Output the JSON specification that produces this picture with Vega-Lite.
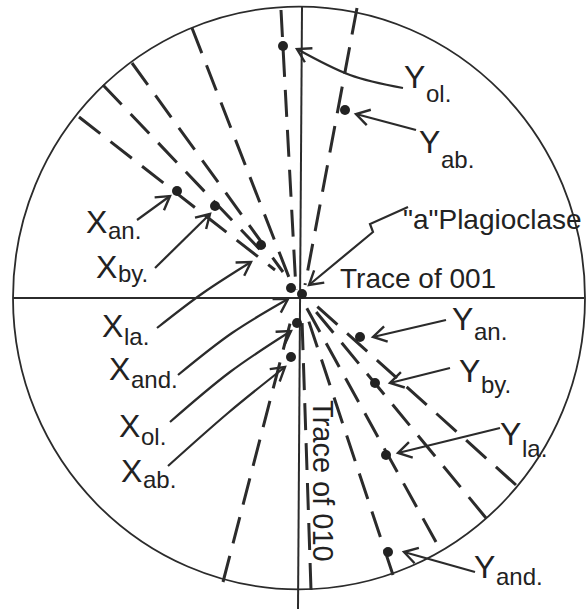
{
  "$schema": "https://vega.github.io/schema/vega-lite/v6.json",
  "width": 586,
  "height": 609,
  "padding": 0,
  "autosize": {"type": "none"},
  "background": "white",
  "config": {"view": {"stroke": null}},
  "datasets": {
    "circle": [{"x": -1, "y": 0}],
    "solid": [
      {"x": -287, "y": 0, "x2": 284, "y2": 0},
      {"x": 2, "y": 291, "x2": -2, "y2": -311}
    ],
    "dashed": [
      {"x": -221, "y": 181, "x2": -25, "y2": 28},
      {"x": -197, "y": 213, "x2": -32, "y2": 40},
      {"x": -168, "y": 235, "x2": -17, "y2": 26},
      {"x": -108, "y": 270, "x2": -10, "y2": 18},
      {"x": -19, "y": 288, "x2": -4, "y2": 8},
      {"x": 57, "y": 290, "x2": 5, "y2": 13},
      {"x": 11, "y": -292, "x2": 2, "y2": -22},
      {"x": 93, "y": -277, "x2": 5, "y2": -12},
      {"x": 136, "y": -244, "x2": 5, "y2": -7},
      {"x": 186, "y": -220, "x2": 8, "y2": -4},
      {"x": 216, "y": -187, "x2": 10, "y2": -2},
      {"x": -77, "y": -284, "x2": -7, "y2": -14}
    ],
    "dots": [
      {"name": "Yol", "x": -17, "y": 252},
      {"name": "Yab", "x": 45, "y": 188},
      {"name": "Xan", "x": -123, "y": 107},
      {"name": "Xby", "x": -85, "y": 92},
      {"name": "Xla", "x": -39, "y": 53},
      {"name": "Xand", "x": -9, "y": 10},
      {"name": "a", "x": 2, "y": 4},
      {"name": "Xol", "x": -3, "y": -25},
      {"name": "Xab", "x": -9, "y": -59},
      {"name": "Yan", "x": 60, "y": -39},
      {"name": "Yby", "x": 75, "y": -85},
      {"name": "Yla", "x": 86, "y": -157},
      {"name": "Yand", "x": 88, "y": -254}
    ],
    "arrows": [
      {"id": "Xan", "o": 0, "x": -163, "y": 78}, {"id": "Xan", "o": 1, "x": -130, "y": 102},
      {"id": "Xby", "o": 0, "x": -145, "y": 30}, {"id": "Xby", "o": 1, "x": -90, "y": 84},
      {"id": "Xla", "o": 0, "x": -143, "y": -30}, {"id": "Xla", "o": 1, "x": -97, "y": 5}, {"id": "Xla", "o": 2, "x": -49, "y": 36},
      {"id": "Xand", "o": 0, "x": -122, "y": -77}, {"id": "Xand", "o": 1, "x": -68, "y": -35}, {"id": "Xand", "o": 2, "x": -12, "y": -1},
      {"id": "Xol", "o": 0, "x": -130, "y": -124}, {"id": "Xol", "o": 1, "x": -70, "y": -74}, {"id": "Xol", "o": 2, "x": -9, "y": -33},
      {"id": "Xab", "o": 0, "x": -132, "y": -168}, {"id": "Xab", "o": 1, "x": -72, "y": -115}, {"id": "Xab", "o": 2, "x": -15, "y": -69},
      {"id": "Yol", "o": 0, "x": 103, "y": 210}, {"id": "Yol", "o": 1, "x": 50, "y": 223}, {"id": "Yol", "o": 2, "x": -3, "y": 249},
      {"id": "Yab", "o": 0, "x": 116, "y": 168}, {"id": "Yab", "o": 1, "x": 56, "y": 184},
      {"id": "Yan", "o": 0, "x": 146, "y": -22}, {"id": "Yan", "o": 1, "x": 73, "y": -39},
      {"id": "Yby", "o": 0, "x": 150, "y": -70}, {"id": "Yby", "o": 1, "x": 90, "y": -85},
      {"id": "Yla", "o": 0, "x": 200, "y": -130}, {"id": "Yla", "o": 1, "x": 98, "y": -155},
      {"id": "Yand", "o": 0, "x": 175, "y": -274}, {"id": "Yand", "o": 1, "x": 104, "y": -254}
    ],
    "zigzag": [
      {"o": 0, "x": 108, "y": 91},
      {"o": 1, "x": 70, "y": 74},
      {"o": 2, "x": 73, "y": 66},
      {"o": 3, "x": 9, "y": 13}
    ],
    "heads": [
      {"id": "Xan", "x": -130, "y": 102, "px": -163, "py": 78},
      {"id": "Xby", "x": -90, "y": 84, "px": -145, "py": 30},
      {"id": "Xla", "x": -49, "y": 36, "px": -97, "py": 5},
      {"id": "Xand", "x": -12, "y": -1, "px": -68, "py": -35},
      {"id": "Xol", "x": -9, "y": -33, "px": -70, "py": -74},
      {"id": "Xab", "x": -15, "y": -69, "px": -72, "py": -115},
      {"id": "Yol", "x": -3, "y": 249, "px": 23, "py": 235},
      {"id": "Yab", "x": 56, "y": 184, "px": 116, "py": 168},
      {"id": "Yan", "x": 73, "y": -39, "px": 146, "py": -22},
      {"id": "Yby", "x": 90, "y": -85, "px": 150, "py": -70},
      {"id": "Yla", "x": 98, "y": -155, "px": 200, "py": -130},
      {"id": "Yand", "x": 104, "y": -254, "px": 175, "py": -274},
      {"id": "plag", "x": 9, "y": 13, "px": 73, "py": 66}
    ],
    "letters": [
      {"t": "X", "x": -214, "y": 65},
      {"t": "X", "x": -204, "y": 20},
      {"t": "X", "x": -198, "y": -39},
      {"t": "X", "x": -191, "y": -82},
      {"t": "X", "x": -181, "y": -139},
      {"t": "X", "x": -179, "y": -184},
      {"t": "Y", "x": 104, "y": 210},
      {"t": "Y", "x": 119, "y": 145},
      {"t": "Y", "x": 152, "y": -32},
      {"t": "Y", "x": 159, "y": -84},
      {"t": "Y", "x": 200, "y": -147},
      {"t": "Y", "x": 174, "y": -280}
    ],
    "subs": [
      {"t": "an.", "x": -192, "y": 59},
      {"t": "by.", "x": -182, "y": 16},
      {"t": "la.", "x": -176, "y": -47},
      {"t": "and.", "x": -169, "y": -90},
      {"t": "ol.", "x": -159, "y": -147},
      {"t": "ab.", "x": -157, "y": -190},
      {"t": "ol.", "x": 126, "y": 196},
      {"t": "ab.", "x": 141, "y": 130},
      {"t": "an.", "x": 174, "y": -42},
      {"t": "by.", "x": 181, "y": -95},
      {"t": "la.", "x": 222, "y": -159},
      {"t": "and.", "x": 196, "y": -287}
    ],
    "notes": [
      {"t": "\"a\"Plagioclase", "x": 103, "y": 69},
      {"t": "Trace of 001", "x": 40, "y": 10}
    ],
    "vnote": [
      {"t": "Trace of 010", "x": 13, "y": -102}
    ]
  },
  "encoding": {
    "x": {"field": "x", "type": "quantitative", "scale": {"domain": [-300, 286], "nice": false, "zero": false}, "axis": null},
    "y": {"field": "y", "type": "quantitative", "scale": {"domain": [-311, 298], "nice": false, "zero": false}, "axis": null}
  },
  "layer": [
    {
      "data": {"name": "circle"},
      "mark": {"type": "point", "shape": "M-1,0A1,1.019,0,1,0,1,0A1,1.019,0,1,0,-1,0", "size": 327184, "filled": false, "stroke": "#2b2b2b", "strokeWidth": 1.8, "opacity": 1}
    },
    {
      "data": {"name": "solid"},
      "mark": {"type": "rule", "stroke": "#2b2b2b", "strokeWidth": 2},
      "encoding": {"x2": {"field": "x2"}, "y2": {"field": "y2"}}
    },
    {
      "data": {"name": "dashed"},
      "mark": {"type": "rule", "stroke": "#2b2b2b", "strokeWidth": 3, "strokeDash": [27, 13]},
      "encoding": {"x2": {"field": "x2"}, "y2": {"field": "y2"}}
    },
    {
      "data": {"name": "arrows"},
      "mark": {"type": "line", "stroke": "#2b2b2b", "strokeWidth": 2.2, "interpolate": "cardinal"},
      "encoding": {"detail": {"field": "id"}, "order": {"field": "o", "type": "quantitative"}}
    },
    {
      "data": {"name": "zigzag"},
      "mark": {"type": "line", "stroke": "#2b2b2b", "strokeWidth": 2.2, "interpolate": "linear"},
      "encoding": {"order": {"field": "o", "type": "quantitative"}}
    },
    {
      "data": {"name": "heads"},
      "transform": [{"calculate": "atan2(-(datum.y - datum.py), datum.x - datum.px) * 180 / PI", "as": "ang"}],
      "mark": {"type": "point", "shape": "M-1,-0.6L0,0L-1,0.6", "size": 700, "filled": false, "stroke": "#2b2b2b", "strokeWidth": 2.4, "opacity": 1},
      "encoding": {"angle": {"field": "ang", "type": "quantitative", "scale": null}}
    },
    {
      "data": {"name": "dots"},
      "mark": {"type": "point", "shape": "circle", "size": 100, "filled": true, "fill": "#222", "stroke": null, "opacity": 1}
    },
    {
      "data": {"name": "letters"},
      "mark": {"type": "text", "align": "left", "baseline": "alphabetic", "font": "Liberation Sans", "fontSize": 32, "fill": "#222"},
      "encoding": {"text": {"field": "t"}}
    },
    {
      "data": {"name": "subs"},
      "mark": {"type": "text", "align": "left", "baseline": "alphabetic", "font": "Liberation Sans", "fontSize": 24, "fill": "#222"},
      "encoding": {"text": {"field": "t"}}
    },
    {
      "data": {"name": "notes"},
      "mark": {"type": "text", "align": "left", "baseline": "alphabetic", "font": "Liberation Sans", "fontSize": 28, "fill": "#222"},
      "encoding": {"text": {"field": "t"}}
    },
    {
      "data": {"name": "vnote"},
      "mark": {"type": "text", "align": "left", "baseline": "alphabetic", "angle": 90, "font": "Liberation Sans", "fontSize": 29, "fill": "#222"},
      "encoding": {"text": {"field": "t"}}
    }
  ]
}
